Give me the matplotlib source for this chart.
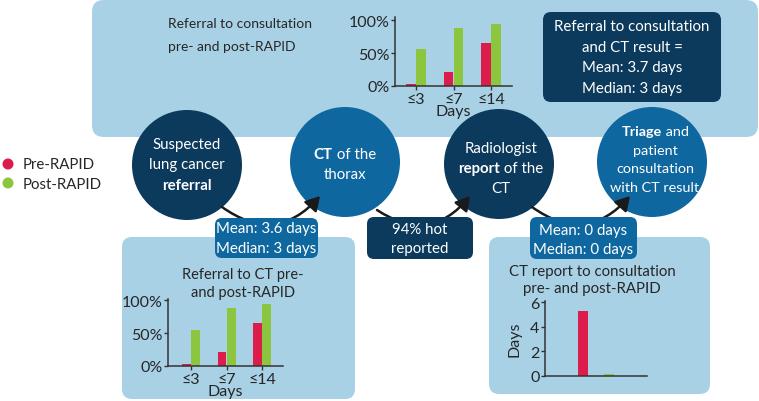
import matplotlib
matplotlib.use("Agg")
import matplotlib.pyplot as plt
from matplotlib.patches import FancyBboxPatch, Circle, FancyArrowPatch

plt.rcParams['font.family'] = ['Lato', 'DejaVu Sans']

# data
categories = ['≤3', '≤7', '≤14']
consult_pre = [3, 22, 66]      # referral to consultation, % within days
consult_post = [56, 88, 95]
ct_pre = [3, 21, 66]           # referral to CT, % within days
ct_post = [55, 88, 94]
report_groups = ['Pre-RAPID', 'Post-RAPID']
report_days = [5.3, 0.15]      # CT report to consultation, mean days
pct_ticks = [0, 50, 100]
pct_labels = ['0%', '50%', '100%']
day_ticks = [0, 2, 4, 6]

RED = '#dc1c4a'
GREEN = '#8cc63f'
NAVY = '#0b3a5c'
BLUE = '#0f67a0'
LIGHT = '#a9d1e6'
INK = '#262626'

W, H = 759, 402
fig = plt.figure(figsize=(W / 100, H / 100), dpi=100)
bg = fig.add_axes([0, 0, 1, 1])
bg.set_xlim(0, W)
bg.set_ylim(H, 0)
bg.axis('off')
renderer = fig.canvas.get_renderer()


def box(x0, y0, x1, y1, color, r=10, z=1):
    p = FancyBboxPatch((x0, y0), x1 - x0, y1 - y0,
                       boxstyle='round,pad=0,rounding_size=%d' % r,
                       fc=color, ec='none', zorder=z)
    bg.add_patch(p)


def line(x, y, parts, size=10.8, color='white', z=6):
    # parts: list of (text, bold); centred as one line
    txts = []
    for s, b in parts:
        t = bg.text(0, y, s, fontsize=size, color=color, va='center',
                    ha='left', fontweight='bold' if b else 'normal', zorder=z)
        txts.append(t)
    widths = [t.get_window_extent(renderer).width for t in txts]
    left = x - sum(widths) / 2
    for t, w in zip(txts, widths):
        t.set_x(left)
        left += w


def px_axes(x0, y0, x1, y1):
    return fig.add_axes([x0 / W, 1 - y1 / H, (x1 - x0) / W, (y1 - y0) / H])


def style(ax, size=11.5):
    ax.patch.set_alpha(0)
    for s in ['top', 'right']:
        ax.spines[s].set_visible(False)
    for s in ['left', 'bottom']:
        ax.spines[s].set_color('#333333')
        ax.spines[s].set_linewidth(1.1)
    ax.tick_params(length=3, width=1, color='#333333', labelsize=size,
                   labelcolor=INK, pad=1)


# background panels
box(92, 1, 758, 138, LIGHT, r=12)
box(122, 238, 355, 400, LIGHT, r=10)
box(489, 238, 710, 395, LIGHT, r=10)
box(543, 13, 721, 103, NAVY, r=8, z=2)

# process circles
circles = [(187, 166, NAVY), (345, 163, BLUE), (499, 165, NAVY), (652, 163, BLUE)]
for cx, cy, c in circles:
    bg.add_patch(Circle((cx, cy), 55, fc=c, ec='none', zorder=3))

# connecting arrows
arcs = [((222, 208), (320, 197)), ((377, 211), (470, 197)), ((532, 208), (630, 197))]
for a, b in arcs:
    bg.add_patch(FancyArrowPatch(a, b, connectionstyle='arc3,rad=0.45',
                                 arrowstyle='-|>,head_length=0.6,head_width=0.35',
                                 mutation_scale=14, lw=1.8, color='#1a1a1a',
                                 shrinkA=0, shrinkB=0, zorder=4))

# pills on the arrows
box(215, 219, 318, 259, BLUE, r=7, z=5)
box(367, 218, 473, 260, NAVY, r=7, z=5)
box(530, 218, 637, 260, BLUE, r=7, z=5)
line(266, 229, [('Mean: 3.6 days', False)])
line(266, 249, [('Median: 3 days', False)])
line(420, 230, [('94% hot', False)])
line(420, 249, [('reported', False)])
line(583, 231, [('Mean: 0 days', False)])
line(583, 250, [('Median: 0 days', False)])

# circle labels
line(187, 145, [('Suspected', False)])
line(187, 165, [('lung cancer', False)])
line(187, 186, [('referral', True)])
line(345, 155, [('CT', True), (' of the', False)])
line(345, 175, [('thorax', False)])
line(501, 149, [('Radiologist', False)])
line(501, 169, [('report', True), (' of the', False)])
line(501, 189, [('CT', False)])
line(655, 132, [('Triage', True), (' and', False)], size=10.4)
line(655, 151, [('patient', False)], size=10.4)
line(655, 169, [('consultation', False)], size=10.4)
line(655, 188, [('with CT result', False)], size=10.4)

# summary box
line(632, 27, [('Referral to consultation', False)])
line(632, 48, [('and CT result =', False)])
line(632, 68, [('Mean: 3.7 days', False)])
line(632, 89, [('Median: 3 days', False)])

# legend
bg.add_patch(Circle((8, 165), 5.5, fc=RED, ec='none'))
bg.add_patch(Circle((8, 184), 5.5, fc=GREEN, ec='none'))
bg.text(23, 165, 'Pre-RAPID', fontsize=10.8, color=INK, va='center')
bg.text(23, 185, 'Post-RAPID', fontsize=10.8, color=INK, va='center')

# chart titles
bg.text(168, 24, 'Referral to consultation', fontsize=10, color=INK, va='center')
bg.text(168, 47, 'pre- and post-RAPID', fontsize=10, color=INK, va='center')
line(243, 275, [('Referral to CT pre-', False)], size=10.5, color=INK)
line(243, 293, [('and post-RAPID', False)], size=10.5, color=INK)
line(592, 272, [('CT report to consultation', False)], size=10.8, color=INK)
line(592, 289, [('pre- and post-RAPID', False)], size=10.8, color=INK)

xs = list(range(len(categories)))

# top chart: referral to consultation
ax1 = px_axes(395, 18, 512, 87)
ax1.bar([x - 0.13 for x in xs], consult_pre, width=0.25, color=RED)
ax1.bar([x + 0.13 for x in xs], consult_post, width=0.25, color=GREEN)
ax1.set_xlim(-0.56, 2.56)
ax1.set_ylim(0, 105)
ax1.set_yticks(pct_ticks, pct_labels)
ax1.set_xticks(xs, categories)
ax1.set_xlabel('Days', fontsize=11.5, color=INK, labelpad=-1)
style(ax1)

# bottom-left chart: referral to CT
ax2 = px_axes(168, 300, 283, 367)
ax2.bar([x - 0.13 for x in xs], ct_pre, width=0.25, color=RED)
ax2.bar([x + 0.13 for x in xs], ct_post, width=0.25, color=GREEN)
ax2.set_xlim(-0.65, 2.59)
ax2.set_ylim(0, 102)
ax2.set_yticks(pct_ticks, pct_labels)
ax2.set_xticks(xs, categories)
ax2.set_xlabel('Days', fontsize=11.5, color=INK, labelpad=-1)
style(ax2)

# bottom-right chart: CT report to consultation
ax3 = px_axes(545, 302, 647, 377)
ax3.bar([0, 1], report_days, width=0.38, color=[RED, GREEN])
ax3.set_xlim(-1.46, 2.46)
ax3.set_ylim(0, 6.1)
ax3.set_yticks(day_ticks)
ax3.set_xticks([])
ax3.set_ylabel('Days', fontsize=11.5, color=INK, labelpad=6)
style(ax3)

fig.savefig('out.png', dpi=100)
